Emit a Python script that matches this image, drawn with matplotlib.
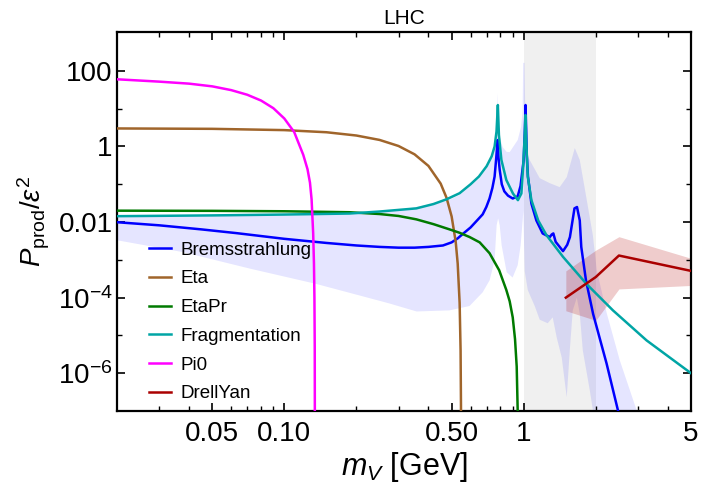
import matplotlib
matplotlib.use('Agg')
import matplotlib.pyplot as plt

plt.rcParams['font.family'] = ['Liberation Sans', 'DejaVu Sans']
plt.rcParams['mathtext.fontset'] = 'custom'
plt.rcParams['mathtext.rm'] = 'Liberation Sans'
plt.rcParams['mathtext.it'] = 'Liberation Sans:italic'
plt.rcParams['mathtext.bf'] = 'Liberation Sans:bold'

# ---------------- data ----------------
brems_x = [0.02, 0.03, 0.045, 0.063, 0.1, 0.15, 0.2, 0.25, 0.3, 0.35, 0.4, 0.46, 0.5, 0.53,
           0.56, 0.6, 0.634, 0.674, 0.698, 0.72, 0.74, 0.756, 0.768, 0.778, 0.785, 0.794,
           0.81, 0.83, 0.86, 0.9, 0.944, 0.97, 0.985, 1.0, 1.012, 1.018, 1.024, 1.03, 1.042,
           1.077, 1.13, 1.2, 1.285, 1.31, 1.33, 1.36, 1.46, 1.52, 1.56, 1.63, 1.67, 1.715,
           1.74, 1.82, 1.95, 2.22, 2.48, 2.55]
brems_y = [0.0099, 0.0082, 0.0064, 0.0051, 0.0036, 0.0028, 0.0024, 0.0022, 0.0021, 0.0021,
           0.0022, 0.0024, 0.0029, 0.0037, 0.005, 0.0072, 0.0105, 0.016, 0.025, 0.042, 0.08,
           0.16, 0.5, 1.48, 0.5, 0.24, 0.1, 0.065, 0.05, 0.042, 0.048, 0.09, 0.2, 0.44, 3.0,
           12.5, 3.0, 0.6, 0.16, 0.031, 0.011, 0.005, 0.004, 0.0047, 0.005, 0.003, 0.0017,
           0.0025, 0.004, 0.023, 0.025, 0.011, 0.0022, 2.9e-4, 3.7e-5, 1.8e-6, 1.0e-7, 4e-8]

eta_x = [0.02, 0.05, 0.1, 0.15, 0.2, 0.25, 0.3, 0.35, 0.4, 0.45, 0.476, 0.5, 0.52, 0.53,
         0.54, 0.545, 0.547, 0.548]
eta_y = [3.0, 2.93, 2.71, 2.38, 1.95, 1.49, 1.03, 0.62, 0.306, 0.104, 0.044, 0.0141,
         0.003, 8e-4, 7.3e-5, 4e-6, 1.5e-7, 1e-8]

etapr_x = [0.02, 0.05, 0.1, 0.187, 0.25, 0.3, 0.356, 0.42, 0.49, 0.54, 0.595, 0.655, 0.72,
           0.79, 0.846, 0.874, 0.9, 0.92, 0.935, 0.944, 0.95]
etapr_y = [0.0200, 0.0198, 0.0193, 0.0182, 0.0163, 0.0145, 0.0118, 0.0088, 0.0064, 0.0052,
           0.0040, 0.0029, 0.0015, 5.3e-4, 1.6e-4, 8e-5, 3e-5, 8e-6, 1.5e-6, 1e-7, 1e-8]

frag_x = [0.02, 0.05, 0.1, 0.187, 0.25, 0.356, 0.42, 0.476, 0.54, 0.6, 0.65, 0.7, 0.735,
          0.756, 0.77, 0.78, 0.788, 0.807, 0.846, 0.902, 0.946, 0.978, 0.995, 1.01, 1.017,
          1.026, 1.04, 1.077, 1.15, 1.245, 1.46, 1.83, 2.36, 3.26, 5.0]
frag_y = [0.0143, 0.0150, 0.0158, 0.0168, 0.019, 0.023, 0.030, 0.040, 0.058, 0.1, 0.16,
          0.3, 0.55, 1.0, 2.5, 12.5, 2.0, 0.44, 0.13, 0.057, 0.038, 0.057, 0.3, 2.0, 6.8,
          1.2, 0.16, 0.038, 0.011, 0.0045, 0.0012, 2.3e-4, 4.6e-5, 7.4e-6, 1.0e-6]

pi0_x = [0.02, 0.03, 0.04, 0.05, 0.06, 0.07, 0.08, 0.09, 0.1, 0.11, 0.12, 0.125, 0.128,
         0.13, 0.132, 0.133, 0.1336, 0.134, 0.1342]
pi0_y = [60, 52, 46, 39, 31, 23.4, 16.4, 10.3, 5.5, 2.4, 0.6, 0.25, 0.11, 0.04, 0.005,
         8e-4, 1e-4, 5e-6, 1e-8]

dy_x = [1.5, 2.0, 2.5, 5.0]
dy_y = [1.0e-4, 3.5e-4, 1.3e-3, 5.1e-4]
dy_hi = [5.1e-4, 1.8e-3, 4.1e-3, 1.1e-3]
dy_lo = [4.5e-5, 2.5e-5, 1.7e-4, 2.1e-4]

# Bremsstrahlung uncertainty band: upper and lower edges
bandhi_x = [0.02, 0.0441, 0.1, 0.187, 0.303, 0.476, 0.54, 0.6, 0.65, 0.7, 0.735, 0.756,
            0.771, 0.778, 0.786, 0.794, 0.817, 0.849, 0.874, 0.944, 0.975, 0.99, 0.995,
            1.008, 1.015, 1.029, 1.059, 1.167, 1.285, 1.414, 1.513, 1.635, 1.715, 1.835,
            1.945, 2.02, 2.225, 2.52, 2.971, 3.06]
bandhi_y = [0.0134, 0.0142, 0.0150, 0.0160, 0.0205, 0.036, 0.052, 0.09, 0.14, 0.26, 0.48,
            0.9, 2.7, 26, 3.0, 1.8, 0.96, 0.72, 0.71, 1.48, 3.3, 9.2, 163, 163, 10, 0.66,
            0.44, 0.145, 0.107, 0.084, 0.154, 0.91, 0.44, 0.038, 0.0045, 5.3e-4, 3.8e-5,
            2.2e-6, 1e-7, 5e-8]
bandlo_x = [0.02, 0.0377, 0.0715, 0.136, 0.2, 0.275, 0.357, 0.49, 0.594, 0.674, 0.721,
            0.756, 0.771, 0.782, 0.794, 0.809, 0.849, 0.899, 0.944, 0.971, 0.99, 0.997,
            1.003, 1.01, 1.04, 1.06, 1.112, 1.167, 1.26, 1.322, 1.374, 1.442, 1.513, 1.558,
            1.603, 1.667, 1.715, 1.766, 1.889, 1.982, 3.06]
bandlo_y = [0.0033, 0.0016, 5.9e-4, 2.3e-4, 1.2e-4, 7e-5, 4.3e-5, 4.6e-5, 6e-5, 1.38e-4,
            2.9e-4, 9.7e-4, 0.0082, 0.0125, 0.0082, 0.0024, 4.7e-4, 3.4e-4, 7.2e-4, 0.0024,
            0.011, 0.02, 0.003, 5e-4, 1.6e-4, 1.2e-4, 6e-5, 2.6e-5, 2.1e-5, 3.0e-5, 8.8e-6,
            2.6e-6, 2.3e-7, 4e-6, 4.6e-5, 1e-4, 3.8e-5, 4e-6, 3.5e-7, 5e-8, 5e-8]

shade_lo, shade_hi = 1.0, 2.0

series_names = ['Bremsstrahlung', 'Eta', 'EtaPr', 'Fragmentation', 'Pi0', 'DrellYan']
series_colors = ['#0000ff', '#a0652b', '#007a00', '#00a5a5', '#ff00ff', '#aa0000']

xticks = [0.05, 0.1, 0.5, 1, 5]
xticklabels = ['0.05', '0.10', '0.50', '1', '5']
xminor = [0.03, 0.04, 0.06, 0.07, 0.08, 0.09, 0.2, 0.3, 0.4, 0.6, 0.7, 0.8, 0.9, 2, 3, 4]
yticks = [1e2, 1, 1e-2, 1e-4, 1e-6]
yticklabels = ['100', '1', '0.01', r'$10^{-4}$', r'$10^{-6}$']
yminor = [10, 0.1, 1e-3, 1e-5]

# ---------------- plot ----------------
fig = plt.figure(figsize=(7.01, 4.87), dpi=100)
ax = fig.add_axes([117 / 701, 1 - 411 / 487, (691 - 117) / 701, (411 - 32) / 487])
ax.set_xscale('log')
ax.set_yscale('log')

ax.axvspan(shade_lo, shade_hi, color='#f0f0f0', lw=0, zorder=0)
poly_x = bandhi_x + bandlo_x[::-1]
poly_y = bandhi_y + bandlo_y[::-1]
ax.fill(poly_x, poly_y, color='#0000ff', alpha=0.10, lw=0, zorder=1)
ax.fill_between(dy_x, dy_lo, dy_hi, color='#b00000', alpha=0.2, lw=0, zorder=1)

lw = 1.8
series = [(brems_x, brems_y), (eta_x, eta_y), (etapr_x, etapr_y), (frag_x, frag_y),
          (pi0_x, pi0_y), (dy_x, dy_y)]
for (xs, ys), name, col in zip(series, series_names, series_colors):
    ax.plot(xs, ys, color=col, lw=lw, label=name, zorder=3, solid_joinstyle='round')

ax.set_xlim(0.02, 5)
ax.set_ylim(1e-7, 1070)

ax.set_xticks(xticks)
ax.set_xticklabels(xticklabels)
ax.set_xticks(xminor, minor=True)
ax.set_xticklabels([], minor=True)
ax.set_yticks(yticks)
ax.set_yticklabels(yticklabels)
ax.set_yticks(yminor, minor=True)
ax.set_yticklabels([], minor=True)

ax.tick_params(which='both', direction='in', top=True, right=True, colors='black')
ax.tick_params(which='major', length=6, width=1.2, labelsize=20, pad=3)
ax.tick_params(which='minor', length=3.5, width=1.0)
ax.tick_params(axis='x', which='major', pad=7)
for s in ax.spines.values():
    s.set_linewidth(1.6)

ax.set_xlabel(r'$m_V$ [GeV]', fontsize=22, labelpad=2)
ax.set_ylabel(r'$P_{\mathrm{prod}}/\varepsilon^2$', fontsize=20, labelpad=4)
ax.set_title('LHC', fontsize=15, pad=6)

leg = ax.legend(loc='upper left', bbox_to_anchor=(0.055, 0.447), frameon=False,
                fontsize=13.5, handlelength=1.2, handletextpad=0.5, labelspacing=0.62,
                borderpad=0, borderaxespad=0)

fig.savefig('out.png', dpi=100)
